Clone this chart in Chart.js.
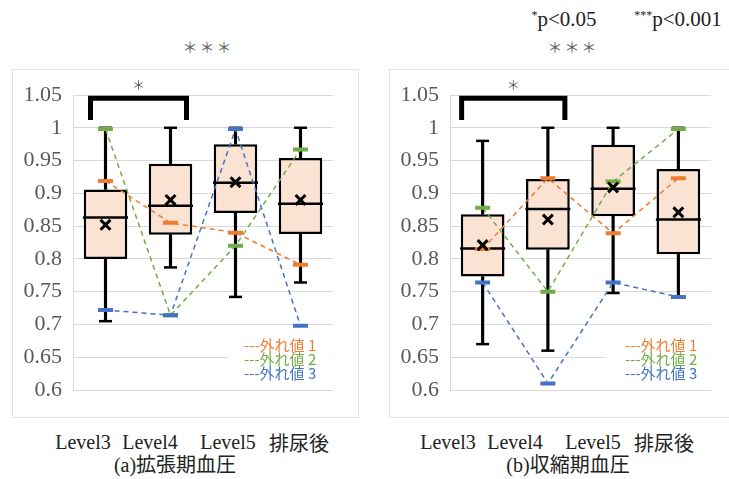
<!DOCTYPE html>
<html>
<head>
<meta charset="utf-8">
<script src="https://cdn.jsdelivr.net/npm/chart.js@4.4.1/dist/chart.umd.min.js"></script>
<style>
  html, body { margin: 0; padding: 0; overflow: hidden; background: #fff; }
  #wrap { position: relative; width: 729px; height: 479px; overflow: hidden; font-family: "Liberation Serif", "Times New Roman", "Noto Sans CJK JP", serif; color: #222; }
  .panel { position: absolute; border: 1px solid #e3e3e3; box-sizing: border-box; }
  canvas { position: absolute; }
  .txt { position: absolute; white-space: nowrap; transform: translate(-50%, -50%); }
  .cat { font-size: 20px; }
  .cap { font-size: 20px; }
  .stars { font-family: "Noto Sans CJK JP"; font-size: 15px; color: #666; letter-spacing: 2px; }
  .pv { font-size: 21px; }
  .pv sup { font-size: 12px; vertical-align: 7px; }
</style>
</head>
<body>
<div id="wrap">
  <div class="panel" style="left:12px;top:69px;width:347px;height:349px"></div>
  <div class="panel" style="left:389px;top:69px;width:350px;height:349px"></div>
  <canvas id="diag" width="346" height="348" style="left:12px;top:69px"></canvas>
  <canvas id="diag2" width="346" height="348" style="left:390px;top:69px"></canvas>
  <div class="txt pv" style="left:564px;top:19px"><sup>*</sup>p&lt;0.05</div>
  <div class="txt pv" style="left:678px;top:19px"><sup>***</sup>p&lt;0.001</div>
  <div class="txt stars" style="left:208px;top:46px">＊＊＊</div>
  <div class="txt stars" style="left:573px;top:46px">＊＊＊</div>
</div>
<script>
const SERIF = '"Liberation Serif", "Times New Roman", serif';

// categories
const categories = ['Level3', 'Level4', 'Level5', '排尿後'];
const captions = ['(a)拡張期血圧', '(b)収縮期血圧'];
const yTicks = [0.6, 0.65, 0.7, 0.75, 0.8, 0.85, 0.9, 0.95, 1, 1.05];
const outlierLabels = ['外れ値 1', '外れ値 2', '外れ値 3'];

// (a) diastolic
const aMin  = [0.705, 0.787, 0.742, 0.764];
const aQ1   = [0.800, 0.837, 0.870, 0.838];
const aMed  = [0.863, 0.881, 0.916, 0.884];
const aQ3   = [0.906, 0.945, 0.975, 0.954];
const aMax  = [1.000, 1.000, 1.000, 1.000];
const aMean = [0.852, 0.890, 0.917, 0.890];
const aOut1 = [0.919, 0.855, 0.840, 0.791];
const aOut2 = [0.998, 0.714, 0.820, 0.967];
const aOut3 = [0.722, 0.714, 0.998, 0.698];

// (b) systolic
const bMin  = [0.670, 0.660, 0.748, 0.742];
const bQ1   = [0.773, 0.814, 0.865, 0.807];
const bMed  = [0.816, 0.876, 0.907, 0.860];
const bQ3   = [0.868, 0.922, 0.974, 0.937];
const bMax  = [0.980, 1.000, 1.000, 1.000];
const bMean = [0.821, 0.860, 0.909, 0.871];
const bOut1 = [0.815, 0.923, 0.839, 0.923];
const bOut2 = [0.878, 0.750, 0.918, 0.998];
const bOut3 = [0.764, 0.610, 0.764, 0.742];

const outColors = ['#ed7d31', '#70ad47', '#4472c4'];

// label positions under each panel (they don't line up with the boxes in the original)
const catX = [[83, 150, 228, 299], [448, 515, 593, 664]];
const capX = [175, 568];

const wrap = document.getElementById('wrap');
catX.forEach((xs, p) => {
    xs.forEach((x, i) => {
        const d = document.createElement('div');
        d.className = 'txt cat';
        d.style.left = x + 'px';
        d.style.top = '442px';
        d.textContent = categories[i];
        wrap.appendChild(d);
    });
    const c = document.createElement('div');
    c.className = 'txt cap';
    c.style.left = capX[p] + 'px';
    c.style.top = '463px';
    c.textContent = captions[p];
    wrap.appendChild(c);
});

// legend box, significance bracket
const extras = {
    id: 'extras',
    beforeDatasetsDraw(chart) {
        const ctx = chart.ctx, a = chart.chartArea;
        ctx.save();
        ctx.fillStyle = '#fff';
        ctx.fillRect(a.right - 105, a.bottom - 56, 104, 47);
        ctx.font = '15px "Noto Sans CJK JP"';
        ctx.textBaseline = 'middle';
        chart.data.datasets.filter(ds => ds.isOutlier).forEach((ds, i) => {
            ctx.fillStyle = ds.borderColor;
            ctx.fillText('---' + ds.label, a.right - chart.options.plugins.extras.legendX, a.bottom - 45 + i * 14);
        });
        ctx.restore();
    },
    afterDraw(chart) {
        const ctx = chart.ctx, x = chart.scales.x, y = chart.scales.y;
        const o = chart.options.plugins.extras;
        const x0 = x.getPixelForValue(0) - o.padL, x1 = x.getPixelForValue(1) + o.padR;
        const yt = y.getPixelForValue(1.045), yb = y.getPixelForValue(1.012);
        ctx.save();
        ctx.strokeStyle = '#000';
        ctx.lineWidth = 5;
        ctx.lineJoin = 'miter';
        ctx.beginPath();
        ctx.moveTo(x0, yb);
        ctx.lineTo(x0, yt);
        ctx.lineTo(x1, yt);
        ctx.lineTo(x1, yb);
        ctx.stroke();
        ctx.fillStyle = '#555';
        ctx.font = '13px "Noto Sans CJK JP"';
        ctx.textAlign = 'center';
        ctx.textBaseline = 'middle';
        ctx.fillText('＊', (x0 + x1) / 2, yt - 13);
        ctx.restore();
    }
};

function buildBoxChart(id, s, opt) {
    const ctx = document.getElementById(id).getContext('2d');
    const pts = (data, style, r, w, order) => ({
        type: 'line', data: data, showLine: false, order: order,
        pointStyle: style, pointRadius: r, pointHoverRadius: r,
        pointBorderWidth: w, pointBorderColor: '#000', pointBackgroundColor: '#000'
    });
    const datasets = [
        { data: s.q1.map((v, i) => [v, s.q3[i]]), backgroundColor: '#fbe3d3', borderColor: '#000',
          borderWidth: 2.5, borderSkipped: false, grouped: false, barPercentage: 0.67, categoryPercentage: 1, order: 20 },
        { data: s.min.map((v, i) => [v, s.q1[i]]), backgroundColor: '#000', barThickness: 2.5, grouped: false, order: 19 },
        { data: s.q3.map((v, i) => [v, s.max[i]]), backgroundColor: '#000', barThickness: 2.5, grouped: false, order: 18 },
        pts(s.min, 'line', 6.5, 2.5, 17),
        pts(s.max, 'line', 6.5, 2.5, 16),
        pts(s.med, 'line', 22.5, 2.5, 15)
    ];
    s.outs.forEach((d, i) => {
        datasets.push({
            type: 'line', label: outlierLabels[i], isOutlier: true, data: d, order: 10 - i,
            borderColor: outColors[i], backgroundColor: outColors[i], borderWidth: 1.5, borderDash: [5, 4],
            pointStyle: 'line', pointRadius: 7.5, pointHoverRadius: 7.5, pointBorderWidth: 4,
            pointBorderColor: outColors[i]
        });
    });
    datasets.push(pts(s.mean, 'crossRot', 7, 3, 1));

    new Chart(ctx, {
        type: 'bar',
        data: { labels: categories, datasets: datasets },
        options: {
            responsive: false,
            animation: false,
            layout: { padding: { left: 0, right: opt.right, top: 26, bottom: 27 } },
            plugins: {
                legend: { display: false },
                tooltip: { enabled: false },
                extras: opt
            },
            scales: {
                x: { display: false, offset: true },
                y: {
                    min: 0.6, max: 1.05,
                    afterFit: sc => { sc.width = opt.axisW; },
                    afterBuildTicks: sc => { sc.ticks = yTicks.map(v => ({ value: v })); },
                    grid: { color: '#d9d9d9', drawTicks: false },
                    border: { display: true, color: '#d9d9d9' },
                    ticks: {
                        padding: 11, color: '#595959',
                        font: { family: SERIF, size: 22 },
                        callback: v => String(+v.toFixed(2))
                    }
                }
            }
        },
        plugins: [extras]
    });
}

buildBoxChart('diag', { min: aMin, q1: aQ1, med: aMed, q3: aQ3, max: aMax, mean: aMean, outs: [aOut1, aOut2, aOut3] },
    { axisW: 61, right: 11, padL: 15, padR: 16, legendX: 89 });
buildBoxChart('diag2', { min: bMin, q1: bQ1, med: bMed, q3: bQ3, max: bMax, mean: bMean, outs: [bOut1, bOut2, bOut3] },
    { axisW: 60, right: 13, padL: 21, padR: 17, legendX: 86 });
</script>
</body>
</html>
